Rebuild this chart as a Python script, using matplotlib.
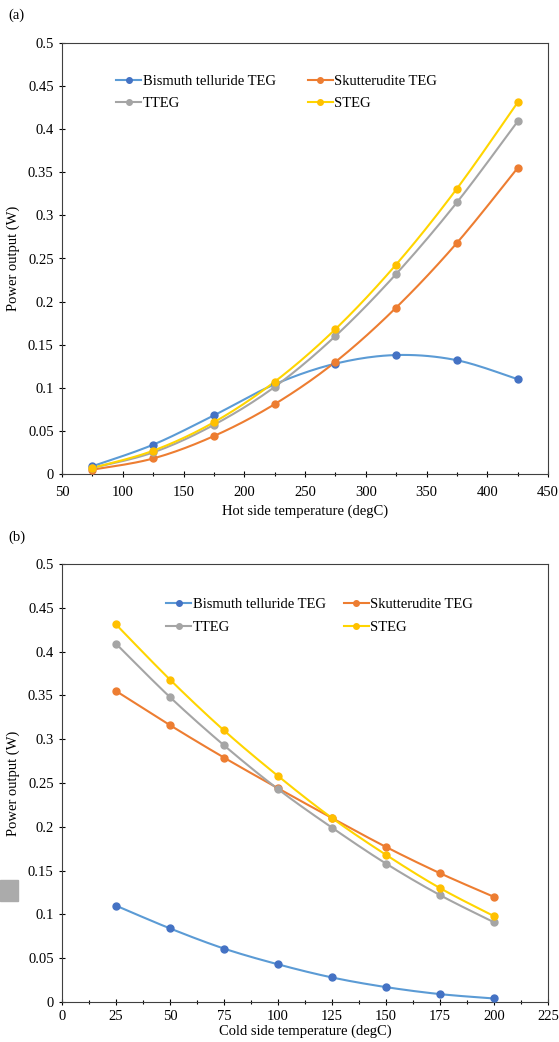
import matplotlib
matplotlib.use("Agg")
import matplotlib.pyplot as plt
import numpy as np
from matplotlib.patches import Rectangle
from matplotlib.lines import Line2D

plt.rcParams['font.family'] = ['Liberation Serif', 'DejaVu Serif']

series_names = ['Bismuth telluride TEG', 'Skutterudite TEG', 'TTEG', 'STEG']
line_colors = ['#5B9BD5', '#ED7D31', '#A5A5A5', '#FFD500']
marker_colors = ['#4472C4', '#ED7D31', '#A5A5A5', '#FFC000']

# (a) hot side
hot_temp = [75, 125, 175, 225, 275, 325, 375, 425]
hot_bismuth = [0.009, 0.034, 0.068, 0.104, 0.128, 0.138, 0.132, 0.110]
hot_skutt = [0.005, 0.018, 0.044, 0.081, 0.130, 0.193, 0.268, 0.355]
hot_tteg = [0.007, 0.025, 0.057, 0.101, 0.160, 0.232, 0.315, 0.409]
hot_steg = [0.007, 0.027, 0.060, 0.107, 0.168, 0.243, 0.331, 0.431]

# (b) cold side
cold_temp = [25, 50, 75, 100, 125, 150, 175, 200]
cold_bismuth = [0.110, 0.084, 0.061, 0.043, 0.028, 0.017, 0.009, 0.004]
cold_skutt = [0.355, 0.316, 0.279, 0.244, 0.210, 0.177, 0.147, 0.120]
cold_tteg = [0.409, 0.348, 0.293, 0.243, 0.199, 0.158, 0.122, 0.091]
cold_steg = [0.431, 0.368, 0.310, 0.258, 0.210, 0.168, 0.130, 0.098]


def smooth(x, y, n=20, t=1/6):
    # Excel-like smoothed line: cubic bezier segments through the points
    x = np.asarray(x, float)
    y = np.asarray(y, float)
    px = np.concatenate([[x[0]], x, [x[-1]]])
    py = np.concatenate([[y[0]], y, [y[-1]]])
    xs, ys = [], []
    s = np.linspace(0, 1, n)
    for i in range(len(x) - 1):
        p0 = np.array([px[i + 1], py[i + 1]])
        p3 = np.array([px[i + 2], py[i + 2]])
        p1 = p0 + t * (np.array([px[i + 2], py[i + 2]]) - np.array([px[i], py[i]]))
        p2 = p3 - t * (np.array([px[i + 3], py[i + 3]]) - np.array([px[i + 1], py[i + 1]]))
        b = ((1 - s) ** 3)[:, None] * p0 + (3 * (1 - s) ** 2 * s)[:, None] * p1 \
            + (3 * (1 - s) * s ** 2)[:, None] * p2 + (s ** 3)[:, None] * p3
        xs.extend(b[:, 0])
        ys.extend(b[:, 1])
    return xs, ys


def draw(ax, x, data, xlim, xmajor, xlabel, leg_anchor, colspace, rowspace, xpad, lpad):
    for k, y in enumerate(data):
        sx, sy = smooth(x, y)
        ax.plot(sx, sy, color=line_colors[k], lw=1.5, zorder=2)
        ax.plot(x, y, 'o', color=marker_colors[k], ms=5, zorder=3)
    ax.set_xlim(*xlim)
    ax.set_ylim(0, 0.5)
    ax.set_xticks(np.arange(xlim[0], xlim[1] + 1, xmajor))
    ax.set_xticks(np.arange(xlim[0], xlim[1] + 1, xmajor / 2), minor=True)
    ax.set_yticks(np.arange(0, 0.51, 0.05))
    ax.set_yticklabels(['0'] + ['%g' % v for v in np.arange(0.05, 0.51, 0.05)])
    ax.tick_params(direction='inout', length=5, width=0.8, labelsize=10.5)
    ax.tick_params(axis='x', pad=xpad)
    ax.tick_params(which='minor', direction='inout', length=3, width=0.8)
    for sp in ax.spines.values():
        sp.set_color('#404040')
        sp.set_linewidth(0.8)
    ax.set_xlabel(xlabel, fontsize=10.5, labelpad=lpad)
    ax.set_ylabel('Power output (W)', fontsize=10.5, labelpad=6)
    handles = [Line2D([], [], color=line_colors[k], marker='o', ms=4,
                      markerfacecolor=marker_colors[k], markeredgecolor=marker_colors[k], lw=1.5)
               for k in range(4)]
    order = [0, 2, 1, 3]  # row-wise: Bi, Skutt / TTEG, STEG
    ax.legend([handles[i] for i in order], [series_names[i] for i in order],
              ncol=2, frameon=False, fontsize=10.5, borderpad=0,
              loc='upper left', bbox_to_anchor=leg_anchor, handlelength=1.7,
              handletextpad=0.1, columnspacing=colspace, labelspacing=rowspace)


fig = plt.figure(figsize=(5.59, 10.42), dpi=100)
ax1 = fig.add_axes([62 / 559, 1 - 474 / 1042, 486 / 559, 431 / 1042])
ax2 = fig.add_axes([62 / 559, 1 - 1002 / 1042, 486 / 559, 438 / 1042])

draw(ax1, hot_temp, [hot_bismuth, hot_skutt, hot_tteg, hot_steg], (50, 450), 50,
     'Hot side temperature (degC)', (0.097, 0.943), 2.2, 0.62, 6, 4)
draw(ax2, cold_temp, [cold_bismuth, cold_skutt, cold_tteg, cold_steg], (0, 225), 25,
     'Cold side temperature (degC)', (0.2, 0.94), 1.25, 0.7, 3, 1)

fig.text(8 / 559, 1 - 15 / 1042, '(a)', fontsize=10.5, va='center')
fig.text(8 / 559, 1 - 537 / 1042, '(b)', fontsize=10.5, va='center')
fig.patches.append(Rectangle((0, 1 - 901 / 1042), 18 / 559, 21 / 1042,
                             transform=fig.transFigure, color='#ABABAB', figure=fig))

fig.savefig('out.png', dpi=100)
